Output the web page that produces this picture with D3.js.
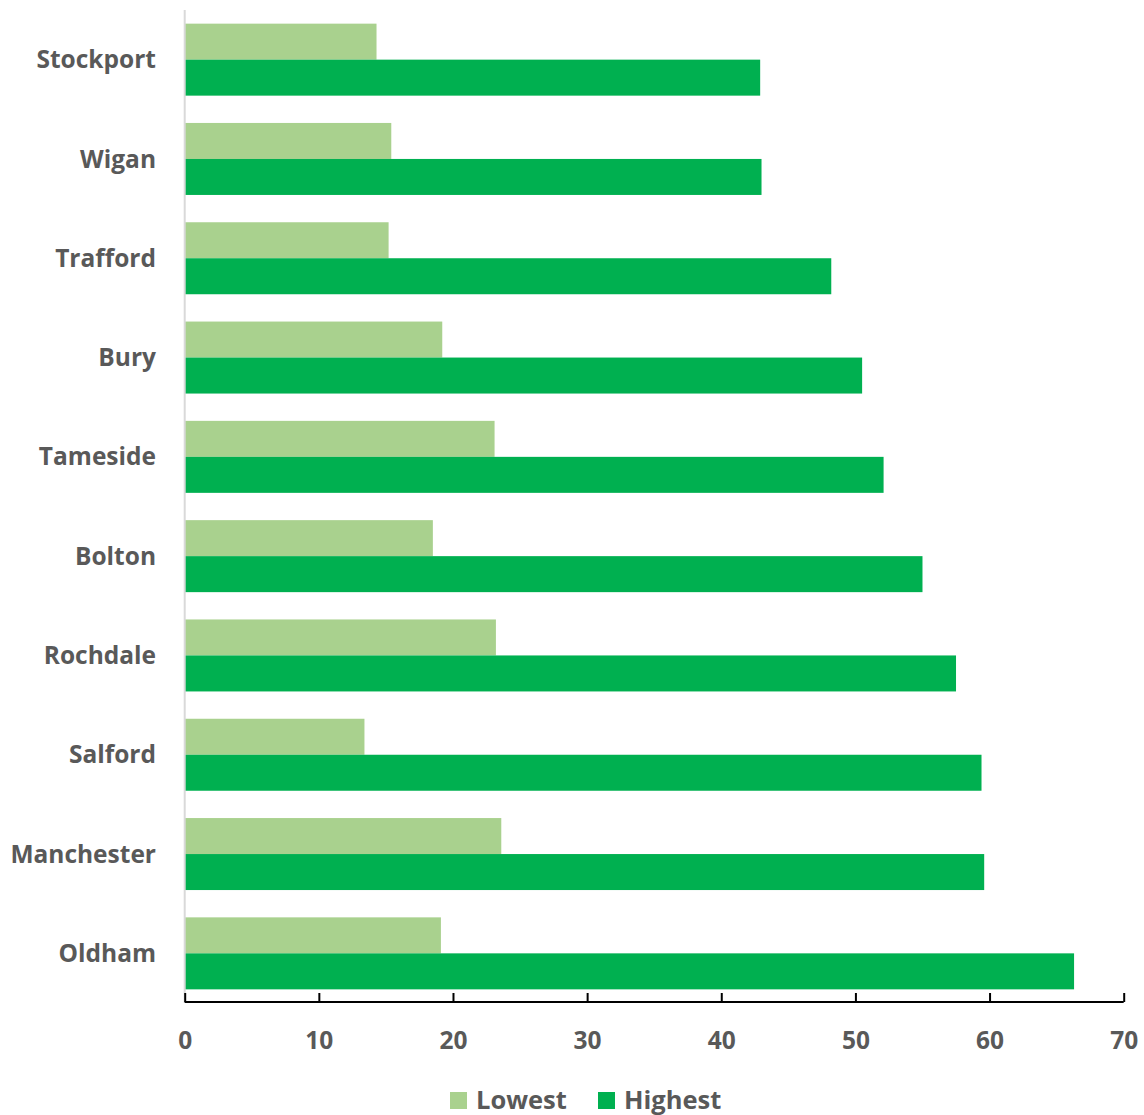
<!DOCTYPE html>
<html>
<head>
<meta charset="utf-8">
<script src="https://cdn.jsdelivr.net/npm/d3@7"></script>
<style>
  html, body { margin: 0; padding: 0; background: #ffffff; }
  svg { display: block; }
  text { font-family: "Open Sans", Lato, sans-serif; font-weight: 700; fill: #595959; }
</style>
</head>
<body>
<svg id="chart" width="1144" height="1115"></svg>
<script>
// Boroughs, top to bottom
const categories = ["Stockport", "Wigan", "Trafford", "Bury", "Tameside", "Bolton", "Rochdale", "Salford", "Manchester", "Oldham"];
const lowest  = [14.3, 15.4, 15.2, 19.2, 23.1, 18.5, 23.2, 13.4, 23.6, 19.1];
const highest = [42.9, 43.0, 48.2, 50.5, 52.1, 55.0, 57.5, 59.4, 59.6, 66.3];
const seriesNames = ["Lowest", "Highest"];
const seriesColors = ["#a9d18e", "#00b050"];
const xTicks = [0, 10, 20, 30, 40, 50, 60, 70];

const svg = d3.select("#chart");

const x = d3.scaleLinear().domain([0, 70]).range([184.7, 1123.7]);
const y = d3.scaleBand().domain(categories).range([10, 1003])
  .paddingInner(0.275).paddingOuter(0.1375);
const sub = d3.scaleBand().domain(seriesNames).range([0, y.bandwidth()]);

const rows = categories.map((c, i) => ({ cat: c, values: [lowest[i], highest[i]] }));

// Bars
const groups = svg.append("g").selectAll("g").data(rows).join("g")
  .attr("transform", d => `translate(0,${y(d.cat)})`);
groups.selectAll("rect")
  .data(d => d.values.map((v, j) => ({ v, s: seriesNames[j], c: seriesColors[j] })))
  .join("rect")
  .attr("x", x(0))
  .attr("y", d => sub(d.s))
  .attr("width", d => x(d.v) - x(0))
  .attr("height", sub.bandwidth())
  .attr("fill", d => d.c);

// Vertical category axis line
svg.append("line")
  .attr("x1", x(0)).attr("x2", x(0))
  .attr("y1", 10).attr("y2", 1003)
  .attr("stroke", "#d9d9d9").attr("stroke-width", 2);

// Category labels
svg.append("g").selectAll("text").data(categories).join("text")
  .attr("x", 156)
  .attr("y", d => y(d) + y.bandwidth() / 2)
  .attr("dy", "0.35em")
  .attr("text-anchor", "end")
  .attr("font-size", 24.5)
  .text(d => d);

// Value axis
const xAxis = d3.axisBottom(x).tickValues(xTicks).tickSize(-9).tickPadding(0).tickFormat(d3.format("d"));
const gx = svg.append("g").attr("transform", "translate(0,1002)").call(xAxis);
gx.attr("font-family", null).attr("font-size", null);
gx.select(".domain").attr("stroke", "#000").attr("stroke-width", 2).attr("d", `M${x(0)},0H${x(70)}`);
gx.selectAll(".tick line").attr("stroke", "#000").attr("stroke-width", 2);
gx.selectAll(".tick text")
  .attr("y", 47)
  .attr("dy", 0)
  .attr("font-size", 24.5)
  .attr("fill", "#595959");

// Legend
const legendItems = [
  { name: seriesNames[0], color: seriesColors[0], x: 450, tx: 476 },
  { name: seriesNames[1], color: seriesColors[1], x: 598, tx: 624 }
];
const lg = svg.append("g").selectAll("g").data(legendItems).join("g");
lg.append("rect")
  .attr("x", d => d.x).attr("y", 1092)
  .attr("width", 17).attr("height", 17)
  .attr("fill", d => d.color);
lg.append("text")
  .attr("x", d => d.tx).attr("y", 1108.5)
  .attr("font-size", 25.5)
  .text(d => d.name);
</script>
</body>
</html>
